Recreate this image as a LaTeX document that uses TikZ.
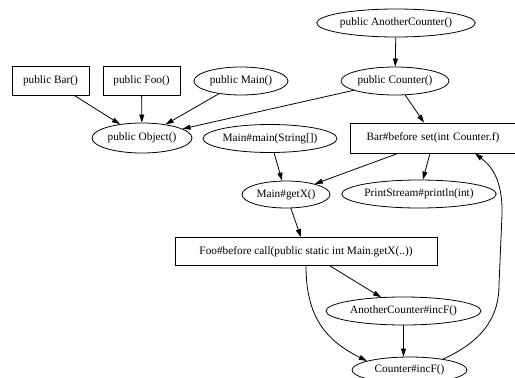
\documentclass[tikz,border=0pt]{standalone}
\usepackage{fontspec}
\setmainfont{Liberation Serif}
\usetikzlibrary{shapes.geometric,arrows.meta}
\begin{document}
\begin{tikzpicture}[x=1pt,y=-1pt,
  every node/.style={font=\fontsize{11.3}{13}\selectfont, inner sep=0pt, line width=0.8pt, draw=black},
  ell/.style={ellipse},
  boxn/.style={rectangle},
  edge/.style={line width=0.8pt, -{Triangle[length=8pt,width=5pt]}}]
\useasboundingbox (0,0) rectangle (515,378);
% nodes
\node[ell, minimum width=156pt, minimum height=28pt] (anc) at (396,23) {public AnotherCounter()};
\node[ell, minimum width=108pt, minimum height=28pt] (ctr) at (395,81) {public Counter()};
\node[boxn, minimum width=77pt, minimum height=29pt] (bar) at (50.5,80.5) {public Bar()};
\node[boxn, minimum width=77pt, minimum height=29pt] (foo) at (141.5,80.5) {public Foo()};
\node[ell, minimum width=94pt, minimum height=28pt] (pmain) at (241,81) {public Main()};
\node[ell, minimum width=100pt, minimum height=30pt] (obj) at (142,138) {public Object()};
\node[ell, minimum width=130pt, minimum height=28pt] (mm) at (270,138.5) {Main\#main(String[])};
\node[boxn, minimum width=166pt, minimum height=30pt, text width=152pt, align=center] (bbs) at (433,138) {Bar\#before set(int Counter.f)};
\node[ell, minimum width=88pt, minimum height=27pt] (gx) at (286,194.5) {Main\#getX()};
\node[ell, minimum width=152pt, minimum height=28pt] (ps) at (419,194) {PrintStream\#println(int)};
\node[boxn, minimum width=262pt, minimum height=28pt] (fbc) at (306,251.5) {Foo\#before call(public static int Main.getX(..))};
\node[ell, minimum width=155pt, minimum height=28pt] (aci) at (403.5,311) {AnotherCounter\#incF()};
\node[ell, minimum width=115pt, minimum height=26pt] (cif) at (409.5,370) {Counter\#incF()};
% edges
\draw[edge] (bar) -- (obj);
\draw[edge] (foo) -- (obj);
\draw[edge] (pmain) -- (obj);
\draw[edge] (ctr) -- (obj);
\draw[edge] (anc) -- (ctr);
\draw[edge] (ctr.-54) -- ([xshift=-9pt]bbs.north);
\draw[edge] (mm) -- (gx);
\draw[edge] ([xshift=-35pt]bbs.south) -- (gx);
\draw[edge] ([xshift=-3pt]bbs.south) -- (ps);
\draw[edge] (gx) -- (fbc);
\draw[edge] ([xshift=24pt]fbc.south) -- (aci);
\draw[edge] (aci.south) -- (aci.south |- cif.north);
\draw[edge] (fbc.south) .. controls +(0,50) and +(-42,-21) .. (cif.168);
\draw[edge] (cif.18) .. controls (485,340) and (499,315) .. (499,285)
  -- (502,215) .. controls (503,178) and (490,165) .. ([xshift=42pt]bbs.south);
\end{tikzpicture}
\end{document}
